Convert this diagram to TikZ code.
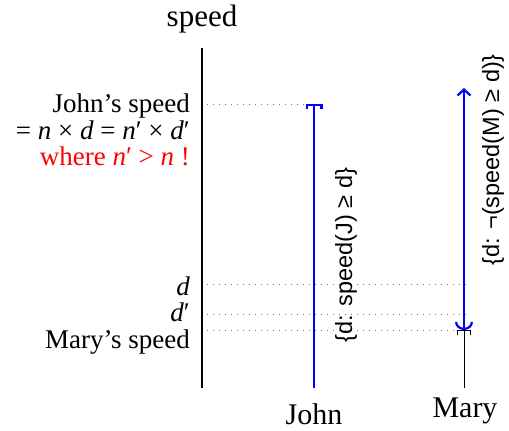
\documentclass[tikz,border=0pt]{standalone}
\usepackage{fontspec}
\setmainfont{Liberation Serif}
\setsansfont{Liberation Sans}
\usetikzlibrary{arrows.meta}
\definecolor{SetBlue}{rgb}{0.0, 0.0, 1.0}
\definecolor{GuideGray}{rgb}{0.45, 0.45, 0.45}

\begin{document}
\begin{tikzpicture}[x=1pt, y=-1pt, >=Stealth, line width=2.2pt,
    guide/.style={line width=1pt, GuideGray, dash pattern=on 1pt off 5pt},
    lbl/.style={font=\fontsize{27}{26.5}\selectfont, inner sep=0pt},
    setlbl/.style={font=\sffamily\fontsize{23.5}{24}\selectfont, rotate=90, inner sep=0pt}]
        \useasboundingbox (0,0) rectangle (509,431);

        % Points on the axis and on the two speed lines
        \coordinate (axTop) at (202,48);
        \coordinate (axBot) at (202,388);
        \coordinate (jTop) at (314,104);
        \coordinate (jBot) at (314,388);
        \coordinate (mTop) at (464,88);
        \coordinate (mSpd) at (464,330);
        \coordinate (mBot) at (464,388);

        % Ends of the dotted guides
        \coordinate (gJ) at (207,104);
        \coordinate (gJend) at (310,104);
        \coordinate (gD) at (207,284);
        \coordinate (gDend) at (466,284);
        \coordinate (gDp) at (207,314);
        \coordinate (gDpend) at (466,314);
        \coordinate (gM) at (207,330);
        \coordinate (gMend) at (458,330);

        % Speed axis
        \draw [black] (axBot) -- (axTop);
        \node [lbl, font=\fontsize{31}{32}\selectfont] (speedLbl) at (202,19) {speed};

        % Dotted guides
        \draw [guide] (gJ) -- (gJend);
        \draw [guide] (gD) -- (gDend);
        \draw [guide] (gDp) -- (gDpend);
        \draw [guide] (gM) -- (gMend);

        % Labels on the axis
        \node [lbl, align=right, anchor=east] (jSpdLbl) at (191,130)
            {John’s speed\\= \textit{n} × \textit{d} = \textit{n}′ × \textit{d}′\\\textcolor{red}{where \textit{n}′ > \textit{n} !}};
        \node [lbl, anchor=east] (dLbl) at (191,286) {\textit{d}};
        \node [lbl, anchor=east] (dpLbl) at (191,312) {\textit{d}′};
        \node [lbl, anchor=east] (mSpdLbl) at (191,342) {Mary’s speed};

        % John
        \draw [SetBlue, -{Bracket[width=17pt, length=4pt]}] (jBot) -- (jTop);
        \node [setlbl] (jSet) at (346,255) {\{d: speed(J) ≥ d\}};
        \node [lbl, font=\fontsize{30}{32}\selectfont] (john) at (314,414) {John};

        % Mary
        \draw [black, line width=1pt, -{Bracket[width=14pt, length=4pt]}] (mBot) -- (mSpd);
        \draw [SetBlue, {Arc Barb[width=18pt, length=8pt]}-{Straight Barb[width=13pt, length=6pt]}] (mSpd) -- (mTop);
        \node [setlbl] (mSet) at (493,160) {\{d: ¬(speed(M) ≥ d)\}};
        \node [lbl, font=\fontsize{30}{32}\selectfont] (mary) at (465,411) {Mary};
    \end{tikzpicture}
\end{document}
